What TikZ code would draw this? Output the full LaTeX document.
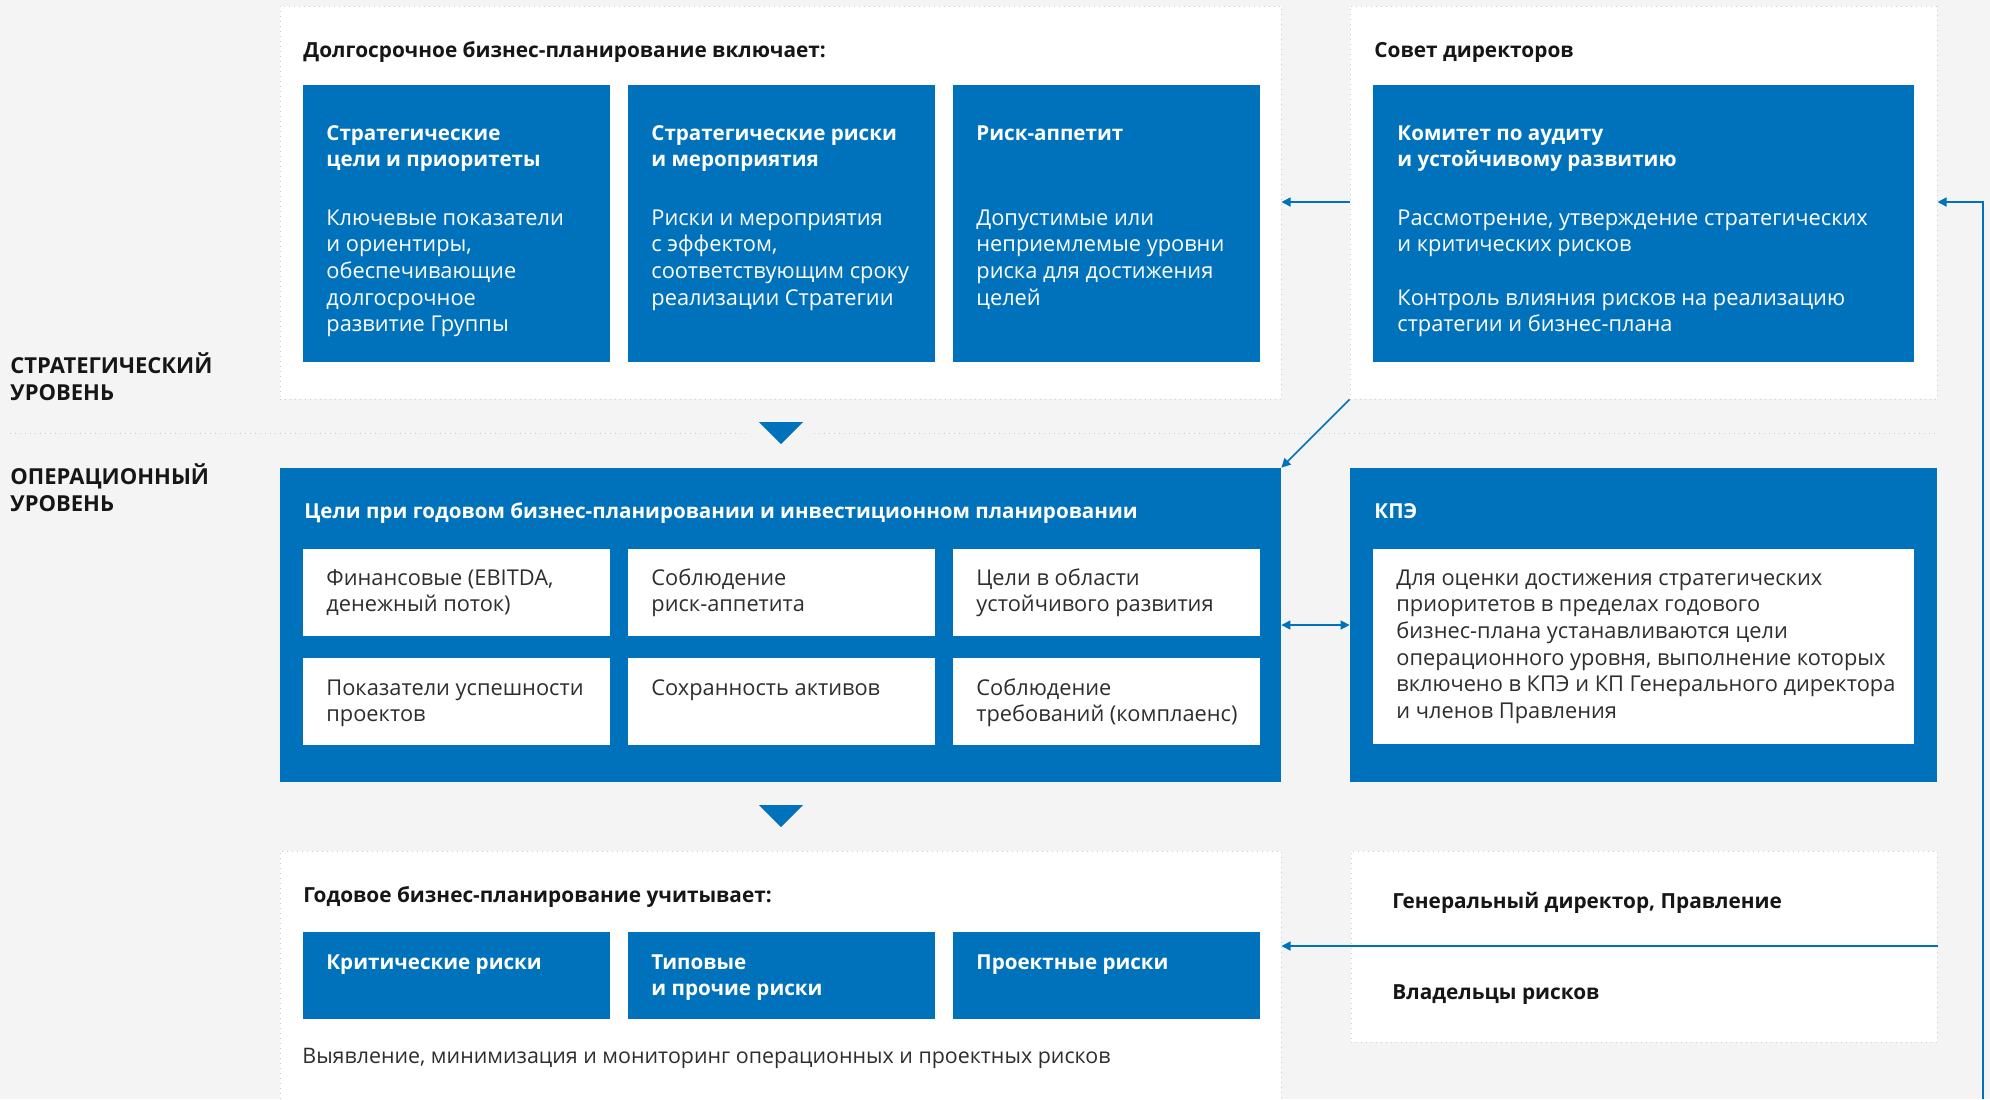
\documentclass[tikz,border=0pt]{standalone}
\usepackage{fontspec}
\setmainfont{Open Sans}
\usetikzlibrary{arrows.meta,fit}
\definecolor{bg}{HTML}{F4F4F4}
\definecolor{blu}{HTML}{0072BC}
\definecolor{dots}{HTML}{CCCCCC}
\definecolor{ink}{HTML}{161616}
\definecolor{grayink}{HTML}{2E2E2E}
\newcommand{\ml}[1]{\vtop{\halign{##\hfil\cr#1\crcr}}}
\begin{document}
\begin{tikzpicture}[x=0.5pt,y=-0.5pt,
  panel/.style={fill=white, draw=dots, dotted, line width=0.5pt, inner sep=0pt},
  bluebox/.style={fill=blu, inner sep=0pt},
  whitebox/.style={fill=white, inner sep=0pt},
  txt/.style={anchor=base west, inner sep=0pt},
  ttl/.style={txt, text=ink, font=\fontsize{10.4}{13.35}\selectfont\bfseries},
  btitle/.style={txt, text=white, font=\fontsize{10.3}{13.35}\selectfont\bfseries},
  bbody/.style={txt, text=white, font=\fontsize{10.9}{13.35}\selectfont},
  wbody/.style={txt, text=grayink, font=\fontsize{10.9}{13.35}\selectfont},
  lvl/.style={txt, text=ink, font=\fontsize{11}{13.5}\selectfont\bfseries},
  arr/.style={draw=blu, line width=0.75pt, -{Triangle[length=4.5pt,width=4.5pt]}},
  darr/.style={draw=blu, line width=0.75pt, {Triangle[length=4.5pt,width=4.5pt]}-{Triangle[length=4.5pt,width=4.5pt]}},
  sep/.style={draw=dots, dotted, line width=0.5pt},
  tri/.style={fill=blu}]
\useasboundingbox (0,0) rectangle (1990,1099);
\fill[bg] (0,0) rectangle (1990,1099);

% separator
\draw[sep] (10,433) -- (746,433);
\draw[sep] (814,433) -- (1937,433);

% level labels
\node[lvl] (lv1) at (10,373) {\ml{СТРАТЕГИЧЕСКИЙ\cr УРОВЕНЬ}};
\node[lvl] (lv2) at (10,484) {\ml{ОПЕРАЦИОННЫЙ\cr УРОВЕНЬ}};

% panels
\node[panel, fit={(280,6)(1281,399)}] (P1) {};
\node[panel, fit={(1350,6)(1937,399)}] (P2) {};
\node[panel, fit={(280,851)(1281,1112)}] (P5) {};
\node[panel, fit={(1351,851)(1937,1042)}] (P6) {};
\node[bluebox, fit={(280,468)(1281,782)}] (M1) {};
\node[bluebox, fit={(1350,468)(1937,782)}] (M2) {};

% top blue boxes
\node[bluebox, fit={(303,85)(610,362)}] (S1) {};
\node[bluebox, fit={(628,85)(935,362)}] (S2) {};
\node[bluebox, fit={(953,85)(1260,362)}] (S3) {};
\node[bluebox, fit={(1373,85)(1914,362)}] (S4) {};

% middle white boxes
\node[whitebox, fit={(303,549)(610,636)}] (W1) {};
\node[whitebox, fit={(628,549)(935,636)}] (W2) {};
\node[whitebox, fit={(953,549)(1260,636)}] (W3) {};
\node[whitebox, fit={(303,658)(610,745)}] (W4) {};
\node[whitebox, fit={(628,658)(935,745)}] (W5) {};
\node[whitebox, fit={(953,658)(1260,745)}] (W6) {};
\node[whitebox, fit={(1373,549)(1914,744)}] (W7) {};

% bottom blue boxes
\node[bluebox, fit={(303,932)(610,1019)}] (B1) {};
\node[bluebox, fit={(628,932)(935,1019)}] (B2) {};
\node[bluebox, fit={(953,932)(1260,1019)}] (B3) {};

% triangles
\fill[tri] (759,422) -- (803,422) -- (781,444) -- cycle;
\fill[tri] (759,805) -- (803,805) -- (781,827) -- cycle;

% texts top
\node[ttl] (t1) at (303,57) {Долгосрочное бизнес-планирование включает:};
\node[ttl] (t2) at (1374,57) {Совет директоров};
\node[btitle] (s1t) at (326,140) {\ml{Стратегические\cr цели и приоритеты}};
\node[bbody] (s1b) at (326,225) {\ml{Ключевые показатели\cr и ориентиры,\cr обеспечивающие\cr долгосрочное\cr развитие Группы}};
\node[btitle] (s2t) at (651,140) {\ml{Стратегические риски\cr и мероприятия}};
\node[bbody] (s2b) at (651,225) {\ml{Риски и мероприятия\cr с эффектом,\cr соответствующим сроку\cr реализации Стратегии}};
\node[btitle] (s3t) at (976,140) {Риск-аппетит};
\node[bbody] (s3b) at (976,225) {\ml{Допустимые или\cr неприемлемые уровни\cr риска для достижения\cr целей}};
\node[btitle] (s4t) at (1397,140) {\ml{Комитет по аудиту\cr и устойчивому развитию}};
\node[bbody] (s4b) at (1397,225) {\ml{Рассмотрение, утверждение стратегических\cr и критических рисков\cr\cr Контроль влияния рисков на реализацию\cr стратегии и бизнес-плана}};

% texts middle
\node[btitle] (m1t) at (304,518) {Цели при годовом бизнес-планировании и инвестиционном планировании};
\node[btitle] (m2t) at (1374,518) {КПЭ};
\node[wbody] (w1t) at (326,585) {\ml{Финансовые (EBITDA,\cr денежный поток)}};
\node[wbody] (w2t) at (651,585) {\ml{Соблюдение\cr риск-аппетита}};
\node[wbody] (w3t) at (976,585) {\ml{Цели в области\cr устойчивого развития}};
\node[wbody] (w4t) at (326,695) {\ml{Показатели успешности\cr проектов}};
\node[wbody] (w5t) at (651,695) {Сохранность активов};
\node[wbody] (w6t) at (976,695) {\ml{Соблюдение\cr требований (комплаенс)}};
\node[wbody] (w7t) at (1396,585) {\ml{Для оценки достижения стратегических\cr приоритетов в пределах годового\cr бизнес-плана устанавливаются цели\cr операционного уровня, выполнение которых\cr включено в КПЭ и КП Генерального директора\cr и членов Правления}};

% texts bottom
\node[ttl] (t5) at (303,902) {Годовое бизнес-планирование учитывает:};
\node[btitle] (b1t) at (326,969) {Критические риски};
\node[btitle] (b2t) at (651,969) {\ml{Типовые\cr и прочие риски}};
\node[btitle] (b3t) at (976,969) {Проектные риски};
\node[wbody, font=\fontsize{10.7}{13.35}\selectfont] (t6) at (302,1063) {Выявление, минимизация и мониторинг операционных и проектных рисков};
\node[ttl] (g1) at (1392,908) {Генеральный директор, Правление};
\node[ttl] (g2) at (1392,999) {Владельцы рисков};

% connectors
\coordinate (ya) at (0,202);
\coordinate (yb) at (0,625);
\coordinate (yc) at (0,946);
\coordinate (loopbot) at (1983,1099);
\draw[arr] (P2.west |- ya) -- (P1.east |- ya);
\draw[arr] (loopbot) |- (P2.east |- ya);
\draw[arr] (P2.south west) -- (M1.north east);
\draw[darr] (M1.east |- yb) -- (M2.west |- yb);
\draw[arr] (P6.east |- yc) -- (P5.east |- yc);
\end{tikzpicture}
\end{document}
